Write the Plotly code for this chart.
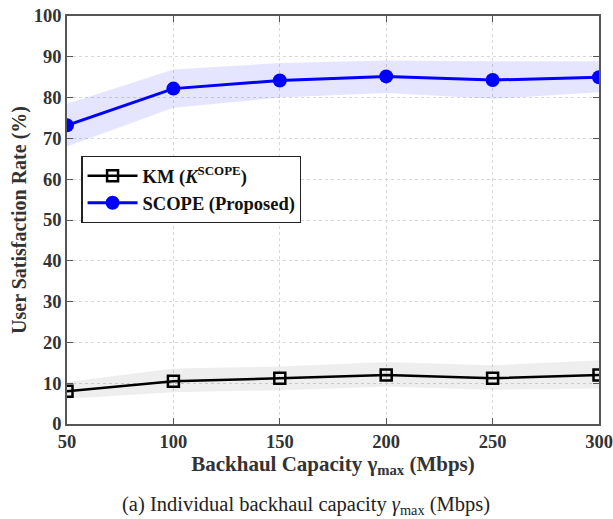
import plotly.graph_objects as go

x_vals = [50, 100, 150, 200, 250, 300]
scope_mean = [73.2, 82.2, 84.2, 85.2, 84.3, 85.0]
scope_upper = [78.5, 86.9, 88.5, 89.1, 88.9, 88.9]
scope_lower = [68.0, 77.5, 80.0, 81.1, 79.7, 81.3]
km_mean = [8.0, 10.5, 11.2, 12.0, 11.2, 12.0]
km_upper = [10.3, 13.6, 14.1, 15.2, 14.4, 15.6]
km_lower = [6.2, 7.8, 8.3, 9.1, 8.4, 8.7]
y_ticks = list(range(0, 101, 10))

FONT = "Liberation Serif"

fig = go.Figure()
# shaded bands
fig.add_trace(go.Scatter(x=x_vals + x_vals[::-1], y=scope_upper + scope_lower[::-1],
                         mode="lines", fill="toself", fillcolor="rgba(0,0,255,0.10)",
                         line=dict(width=0), hoverinfo="skip", showlegend=False))
fig.add_trace(go.Scatter(x=x_vals + x_vals[::-1], y=km_upper + km_lower[::-1],
                         mode="lines", fill="toself", fillcolor="rgba(0,0,0,0.065)",
                         line=dict(width=0), hoverinfo="skip", showlegend=False))
fig.add_trace(go.Scatter(x=x_vals, y=km_mean, mode="lines+markers",
                         name="<b>KM (<i>K</i><sup>SCOPE</sup>)</b>",
                         line=dict(color="black", width=2.5),
                         marker=dict(symbol="square-open", size=11, color="black", line=dict(width=2.5))))
fig.add_trace(go.Scatter(x=x_vals, y=scope_mean, mode="lines+markers",
                         name="<b>SCOPE (Proposed)</b>",
                         line=dict(color="#0000ff", width=3),
                         marker=dict(symbol="circle", size=14, color="#0000ff")))

axis_common = dict(showline=True, linecolor="#555555", linewidth=1.5, mirror="ticks",
                   ticks="inside", ticklen=6, tickcolor="#555555",
                   showgrid=True, gridcolor="#d8d8d8", griddash="dot", gridwidth=1,
                   zeroline=False, automargin=False, ticklabeloverflow="allow",
                   tickfont=dict(family=FONT, size=18.5, color="#333333"))

fig.update_xaxes(range=[50, 300], tickvals=x_vals,
                 ticktext=[f"<b>{v}</b>" for v in x_vals], **axis_common,
                 title=dict(text="<b>Backhaul Capacity γ<sub>max</sub> (Mbps)</b>",
                            font=dict(family=FONT, size=21, color="#333333"), standoff=4))
fig.update_yaxes(range=[0, 100], tickvals=y_ticks,
                 ticktext=[f"<b>{v}</b>" for v in y_ticks], **axis_common,
                 title=dict(text="<b>User Satisfaction Rate (%)</b>",
                            font=dict(family=FONT, size=20, color="#333333"), standoff=2))

fig.add_annotation(text="(a) Individual backhaul capacity <i>γ</i><sub>max</sub> (Mbps)",
                   xref="paper", yref="paper", x=0.449, y=-0.199, showarrow=False,
                   xanchor="center", yanchor="middle",
                   font=dict(family=FONT, size=20.5, color="#222222"))

fig.update_layout(
    width=613, height=519,
    margin=dict(l=67, r=14, t=16, b=95),
    paper_bgcolor="white", plot_bgcolor="white",
    font=dict(family=FONT, color="#222222"),
    legend=dict(x=0.027, y=0.657, xanchor="left", yanchor="top",
                bgcolor="white", bordercolor="#222222", borderwidth=1.2,
                font=dict(family=FONT, size=18.5, color="#111111"),
                itemwidth=50, tracegroupgap=0),
)

fig.write_html("out.html")
